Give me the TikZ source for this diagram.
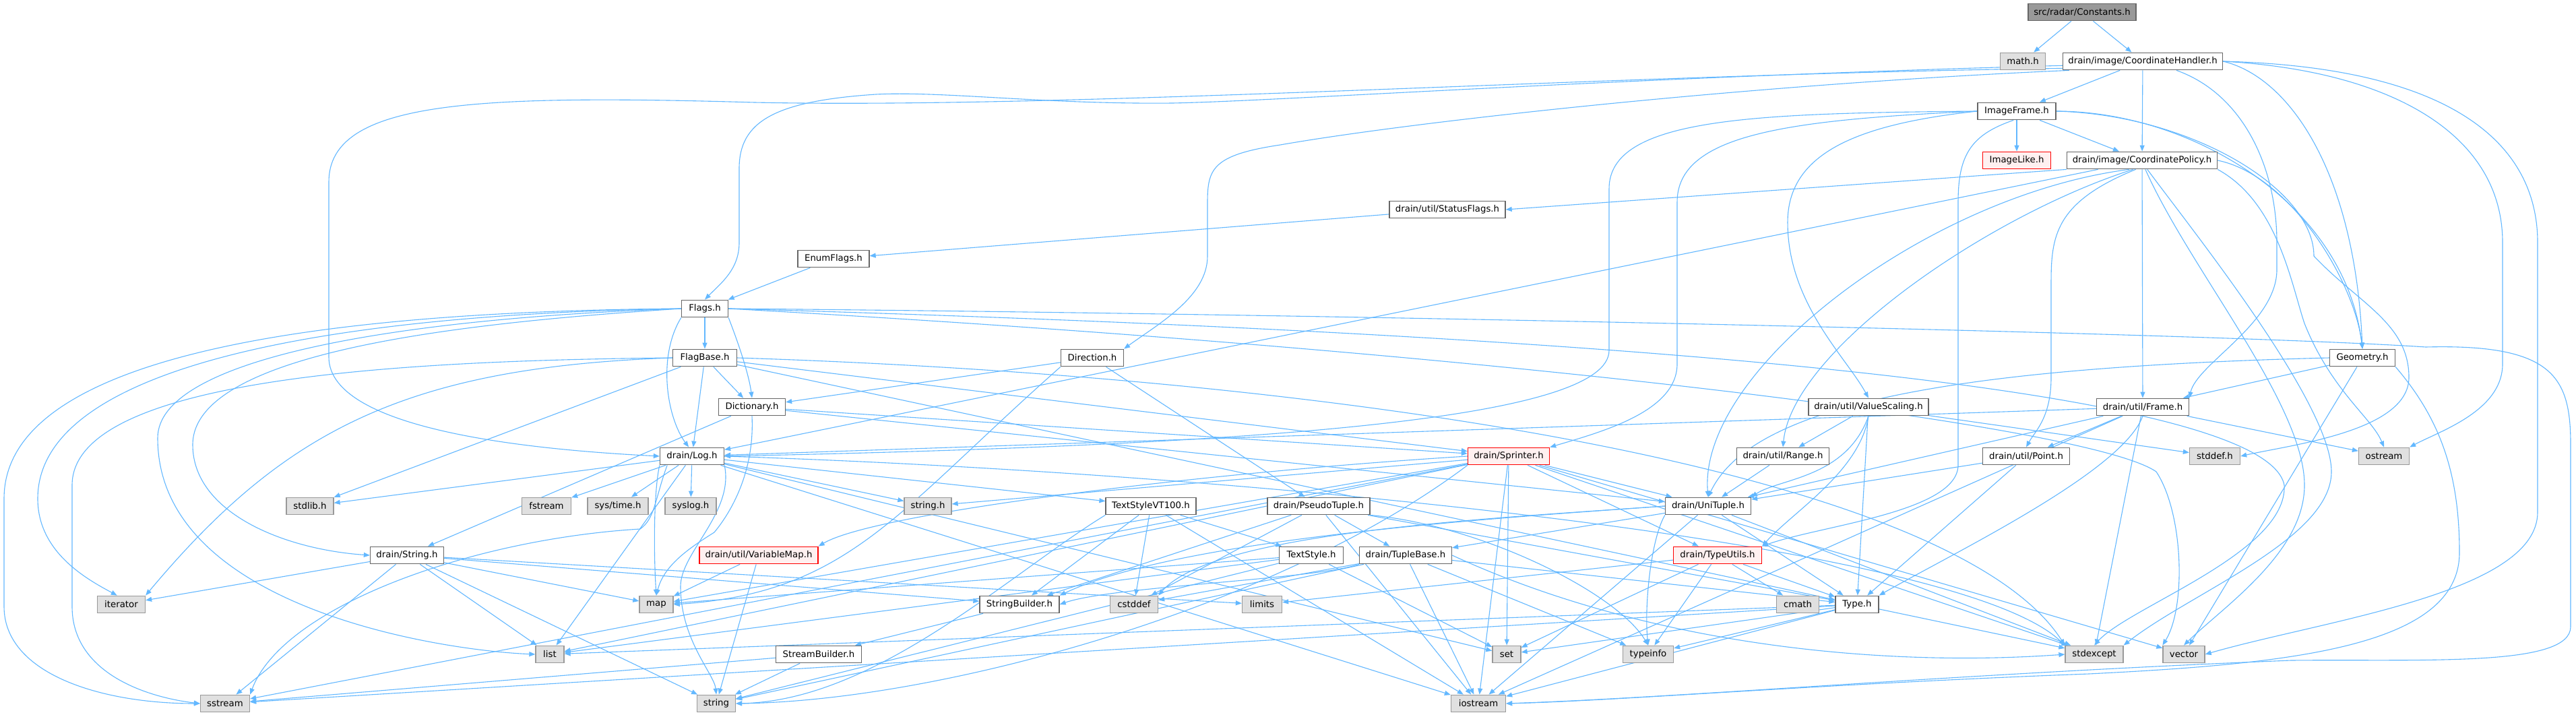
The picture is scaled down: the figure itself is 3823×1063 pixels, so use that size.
\documentclass[tikz,border=0pt]{standalone}
\usepackage{fontspec}
\newfontfamily\dv{DejaVu Sans}
\usetikzlibrary{arrows.meta}
\definecolor{eb}{HTML}{63B8FF}
\definecolor{bd}{HTML}{666666}
\definecolor{bx}{HTML}{999999}
\definecolor{ef}{HTML}{E0E0E0}
\definecolor{rf}{HTML}{FFF0F0}
\pgfdeclarelayer{bg}
\pgfsetlayers{bg,main}
\tikzset{
 nd/.style={draw=bd, fill=white, line width=1.3pt, minimum height=25.5pt, inner sep=0pt, font=\dv\fontsize{13.3}{16}\selectfont, text=black},
 ext/.style={nd, draw=bx, fill=ef},
 redn/.style={nd, draw=red, fill=rf},
 topn/.style={nd, fill=bx},
 edg/.style={draw=eb, line width=1.1pt, -{Triangle[length=9pt,width=7pt]}},
}
\begin{document}
\begin{tikzpicture}[x=1pt,y=-1pt]
\useasboundingbox (0,0) rectangle (3823,1063);
% nodes
\node[topn, minimum width=160pt] (C) at (3090,18) {src/radar/Constants.h};
\node[ext, minimum width=67pt] (math) at (3002,91) {math.h};
\node[nd, minimum width=237pt] (CH) at (3180,91) {drain/image/CoordinateHandler.h};
\node[nd, minimum width=116pt] (IF) at (2993,165) {ImageFrame.h};
\node[redn, minimum width=101pt] (IL) at (2993,238) {ImageLike.h};
\node[nd, minimum width=223pt] (CP) at (3179,238) {drain/image/CoordinatePolicy.h};
\node[nd, minimum width=172pt] (SF) at (2148,311) {drain/util/StatusFlags.h};
\node[nd, minimum width=106pt] (EF) at (1237,384) {EnumFlags.h};
\node[nd, minimum width=69pt] (Flags) at (1046,458) {Flags.h};
\node[nd, minimum width=95pt] (FB) at (1046,531) {FlagBase.h};
\node[nd, minimum width=93pt] (Dir) at (1621,531) {Direction.h};
\node[nd, minimum width=97pt] (Geom) at (3506,531) {Geometry.h};
\node[nd, minimum width=99pt] (Dict) at (1116,604) {Dictionary.h};
\node[nd, minimum width=178pt] (VS) at (2773,604) {drain/util/ValueScaling.h};
\node[nd, minimum width=137pt] (Frame) at (3180,604) {drain/util/Frame.h};
\node[nd, minimum width=95pt] (Log) at (1027,677) {drain/Log.h};
\node[redn, minimum width=121pt] (Spr) at (2239,677) {drain/Sprinter.h};
\node[nd, minimum width=137pt] (Range) at (2646,677) {drain/util/Range.h};
\node[nd, minimum width=129pt] (Point) at (3007,677) {drain/util/Point.h};
\node[ext, minimum width=75pt] (stddef) at (3287,677) {stddef.h};
\node[ext, minimum width=75pt] (ostream) at (3538,677) {ostream};
\node[ext, minimum width=70pt] (stdlib) at (460,751) {stdlib.h};
\node[ext, minimum width=73pt] (fstream) at (811,751) {fstream};
\node[ext, minimum width=90pt] (systime) at (917,751) {sys/time.h};
\node[ext, minimum width=76pt] (syslog) at (1025,751) {syslog.h};
\node[ext, minimum width=70pt] (stringh) at (1377,751) {string.h};
\node[nd, minimum width=134pt] (TSVT) at (1708,751) {TextStyleVT100.h};
\node[nd, minimum width=152pt] (PT) at (1957,751) {drain/PseudoTuple.h};
\node[nd, minimum width=127pt] (UT) at (2535,751) {drain/UniTuple.h};
\node[nd, minimum width=109pt] (String) at (604,824) {drain/String.h};
\node[redn, minimum width=176pt] (VM) at (1126,824) {drain/util/VariableMap.h};
\node[nd, minimum width=95pt] (TS) at (1946,824) {TextStyle.h};
\node[nd, minimum width=137pt] (TB) at (2086,824) {drain/TupleBase.h};
\node[redn, minimum width=131pt] (TU) at (2549,824) {drain/TypeUtils.h};
\node[ext, minimum width=71pt] (iterator) at (180,897) {iterator};
\node[ext, minimum width=50pt] (map) at (974,897) {map};
\node[nd, minimum width=118pt] (SB) at (1513,897) {StringBuilder.h};
\node[ext, minimum width=71pt] (cstddef) at (1683,897) {cstddef};
\node[ext, minimum width=59pt] (limits) at (1873,897) {limits};
\node[ext, minimum width=63pt] (cmath) at (2668,897) {cmath};
\node[nd, minimum width=64pt] (Type) at (2756,897) {Type.h};
\node[ext, minimum width=42pt] (list) at (816,971) {list};
\node[nd, minimum width=127pt] (StrB) at (1215,971) {StreamBuilder.h};
\node[ext, minimum width=42pt] (set) at (2236,971) {set};
\node[ext, minimum width=75pt] (typeinfo) at (2446,971) {typeinfo};
\node[ext, minimum width=86pt] (stdexcept) at (3108,971) {stdexcept};
\node[ext, minimum width=62pt] (vector) at (3241,971) {vector};
\node[ext, minimum width=73pt] (sstream) at (334,1044) {sstream};
\node[ext, minimum width=57pt] (string) at (1063,1044) {string};
\node[ext, minimum width=81pt] (iostream) at (2194,1044) {iostream};

\begin{pgfonlayer}{bg}
\fill[white] (0,0) rectangle (3823,1063);
% routed edges
\draw[edg] (CH.185) .. controls (2400,110) and (1600,162) .. (1120,152) .. controls (700,140) and (488,150) .. (488,270) -- (488,530) .. controls (488,640) and (800,668) .. (Log.west);
\draw[edg] (CH.183) .. controls (2400,115) and (1900,150) .. (1740,153) .. controls (1550,155) and (1400,135) .. (1300,140) .. controls (1150,150) and (1097,180) .. (1097,250) -- (1097,360) .. controls (1097,400) and (1070,420) .. (Flags.north);
\draw[edg] (CH.187) .. controls (2600,125) and (2100,180) .. (1900,215) .. controls (1800,230) and (1792,250) .. (1792,300) -- (1792,380) .. controls (1792,440) and (1720,480) .. (Dir.north east);
\draw[edg] (CH.345) .. controls (3330,140) and (3379,250) .. (3379,360) -- (3379,400) .. controls (3379,480) and (3260,540) .. (Frame.north east);
\draw[edg] (CH.east) .. controls (3400,115) and (3495,260) .. (Geom.north);
\draw[edg] (CH.east) .. controls (3550,105) and (3714,200) .. (3714,360) -- (3714,540) .. controls (3714,610) and (3620,640) .. (ostream.north east);
\draw[edg] (CH.east) .. controls (3650,100) and (3766,220) .. (3766,360) -- (3766,760) .. controls (3766,880) and (3450,920) .. (vector.east);
\draw[edg] (IF.west) .. controls (2600,168) and (2388,175) .. (2388,280) -- (2388,520) .. controls (2388,620) and (1900,660) .. (Log.east);
\draw[edg] (IF.west) .. controls (2650,178) and (2489,200) .. (2489,300) -- (2489,540) .. controls (2489,610) and (2380,640) .. (Spr.north east);
\draw[edg] (IF.west) .. controls (2750,185) and (2653,230) .. (2653,330) .. controls (2653,450) and (2740,530) .. (VS.north);
\draw[edg] (IF.250) .. controls (2925,200) and (2906,230) .. (2906,300) -- (2906,690) .. controls (2906,760) and (2700,780) .. (TU.north east);
\draw[edg] (IF.east) .. controls (3250,165) and (3480,300) .. (Geom.north);
\draw[edg] (IF.east) .. controls (3250,170) and (3434,280) .. (3434,380) .. controls (3500,450) and (3575,480) .. (3575,560) .. controls (3575,640) and (3400,660) .. (stddef.east);
\draw[edg] (CP.south east) .. controls (3380,300) and (3400,420) .. (3420,480) .. controls (3460,580) and (3520,620) .. (ostream.north);
\draw[edg] (CP.east) .. controls (3400,260) and (3495,420) .. (Geom.north);
\draw[edg] (CP.300) .. controls (3260,350) and (3460,600) .. (3460,700) .. controls (3460,800) and (3250,880) .. (stdexcept.north east);
\draw[edg] (CP.290) .. controls (3250,400) and (3420,600) .. (3420,720) .. controls (3420,820) and (3300,900) .. (vector.north);
\draw[edg] (CP.235) .. controls (3050,300) and (3044,350) .. (3044,420) -- (3044,560) .. controls (3044,620) and (3020,640) .. (Point.north);
\draw[edg] (CP.225) .. controls (2950,320) and (2660,520) .. (Range.north);
\draw[edg] (CP.215) .. controls (2860,290) and (2520,550) .. (UT.north);
\draw[edg] (CP.south west) -- (SF.east);
\draw[edg] (Flags.west) .. controls (500,462) and (6,520) .. (6,740) -- (6,900) .. controls (6,1000) and (150,1044) .. (sstream.west);
\draw[edg] (Flags.west) .. controls (500,466) and (56,540) .. (56,740) .. controls (56,820) and (130,860) .. (iterator.115);
\draw[edg] (Flags.west) .. controls (600,472) and (234,530) .. (234,650) .. controls (234,900) and (650,965) .. (list.west);
\draw[edg] (Flags.west) .. controls (700,478) and (286,520) .. (286,660) .. controls (286,760) and (420,815) .. (String.west);
\draw[edg] (FB.west) .. controls (600,535) and (107,560) .. (107,720) -- (107,900) .. controls (107,1000) and (220,1035) .. (sstream.west);
\draw[edg] (FB.west) .. controls (600,545) and (420,640) .. (iterator.north east);
\draw[edg] (Flags.east) .. controls (2000,466) and (3300,495) .. (3600,515) .. controls (3790,510) and (3815,560) .. (3815,660) -- (3815,930) .. controls (3815,990) and (3600,978) .. (3400,980) .. controls (2900,1000) and (2500,1035) .. (iostream.east);
\draw[edg] (Geom.south east) .. controls (3620,620) and (3650,700) .. (3650,820) .. controls (3650,960) and (3400,985) .. (3100,1000) .. controls (2700,1015) and (2400,1040) .. (iostream.east);
\draw[edg] (Flags.east) .. controls (2200,490) and (3360,560) .. (3390,720) .. controls (3395,820) and (3160,900) .. (stdexcept.north);
\draw[edg] (Flags.east) .. controls (2200,520) and (3100,630) .. (3200,700) .. controls (3240,760) and (3245,900) .. (vector.north west);
\draw[edg] (Flags.south west) .. controls (975,530) and (990,620) .. (Log.110);
\draw[edg] (Flags.south east) .. controls (1100,520) and (1112,560) .. (Dict.north);
\draw[edg] (FB.east) .. controls (2000,560) and (2900,700) .. (stdexcept.north west);
\draw[edg] (Dir.south west) .. controls (1330,760) and (1260,880) .. (map.east);
\draw[edg] (Dict.south) .. controls (1120,700) and (1085,760) .. (1060,790) .. controls (1020,815) and (985,840) .. (map.north);
\draw[edg] (Log.south west) .. controls (970,730) and (970,820) .. (map.north);
\draw[edg] (Log.200) .. controls (972,740) and (972,770) .. (950,785) .. controls (700,800) and (420,900) .. (sstream.north east);
\draw[edg] (Log.south east) .. controls (1090,760) and (1010,820) .. (1010,870) .. controls (1010,950) and (1060,1000) .. (string.north);
\draw[edg] (Log.east) .. controls (1800,700) and (2900,800) .. (stdexcept.north west);
\draw[edg] (Spr.west) .. controls (1800,700) and (1300,760) .. (VM.north east);
\draw[edg] (Spr.south west) .. controls (1900,900) and (1400,1040) .. (string.east);
\draw[edg] (TSVT.south west) .. controls (1500,850) and (1300,1040) .. (string.east);
\draw[edg] (PT.south east) .. controls (2200,780) and (2400,880) .. (typeinfo.north);
\draw[edg] (TB.east) .. controls (2450,960) and (2800,990) .. (stdexcept.west);
\draw[edg] (TB.south west) .. controls (1950,860) and (1650,870) .. (SB.east);
\draw[edg] (UT.west) .. controls (2200,770) and (1800,790) .. (cstddef.north east);
\draw[edg] (UT.west) .. controls (2200,770) and (1750,800) .. (SB.north east);
\draw[edg] (UT.south west) .. controls (2450,800) and (2440,900) .. (typeinfo.north);
\draw[edg] (VS.south) .. controls (2760,700) and (2660,760) .. (TU.north east);
\draw[edg] (VS.south) .. controls (2740,710) and (2640,710) .. (UT.north east);
\draw[edg] (Frame.south) .. controls (3150,700) and (2900,820) .. (Type.north east);
\draw[edg] (Geom.west) .. controls (2900,545) and (2600,600) .. (UT.north);
% straight edges
\draw[edg] (C) -- (math);
\draw[edg] (C) -- (CH);
\draw[edg] (CH) -- (IF);
\draw[edg] (CH) -- (CP);
\draw[edg] (IF) -- (IL);
\draw[edg] (IF) -- (CP);
\foreach \t in {Log,Frame} \draw[edg] (CP) -- (\t);
\draw[edg] (SF) -- (EF);
\draw[edg] (EF) -- (Flags);
\draw[edg] (Flags) -- (FB);
\foreach \t in {Dict,Log,stdlib,Spr,Type} \draw[edg] (FB) -- (\t);
\foreach \t in {Dict,PT} \draw[edg] (Dir) -- (\t);
\foreach \t in {Spr,String,UT} \draw[edg] (Dict) -- (\t);
\foreach \t in {stdlib,fstream,systime,syslog,stringh,TSVT,list,iostream,set} \draw[edg] (Log) -- (\t);
\foreach \t in {iterator,sstream,list,string,map,SB,limits} \draw[edg] (String) -- (\t);
\foreach \t in {map,string} \draw[edg] (VM) -- (\t);
\foreach \t in {set,map,list,sstream,iostream,stringh,UT,TU,vector,stdexcept} \draw[edg] (Spr) -- (\t);
\foreach \t in {TS,SB,cstddef,iostream} \draw[edg] (TSVT) -- (\t);
\foreach \t in {set,list,map,string} \draw[edg] (TS) -- (\t);
\foreach \t in {TB,SB,cstddef,iostream,Type} \draw[edg] (PT) -- (\t);
\foreach \t in {Type,typeinfo,iostream,string,cstddef} \draw[edg] (TB) -- (\t);
\foreach \t in {TB,Type,iostream,stdexcept} \draw[edg] (UT) -- (\t);
\foreach \t in {Type,cmath,typeinfo,set,limits} \draw[edg] (TU) -- (\t);
\foreach \t in {typeinfo,set,iostream,stdexcept,list,sstream} \draw[edg] (Type) -- (\t);
\draw[edg] (SB) -- (StrB);
\foreach \t in {string,sstream} \draw[edg] (StrB) -- (\t);
\draw[edg] (Range) -- (UT);
\foreach \t in {Range,Type,stddef} \draw[edg] (VS) -- (\t);
\foreach \t in {Point,ostream,UT,stdexcept,Log,iostream} \draw[edg] (Frame) -- (\t);
\foreach \t in {UT,Type} \draw[edg] (Point) -- (\t);
\foreach \t in {Frame,vector} \draw[edg] (Geom) -- (\t);
\end{pgfonlayer}
\end{tikzpicture}
\end{document}
